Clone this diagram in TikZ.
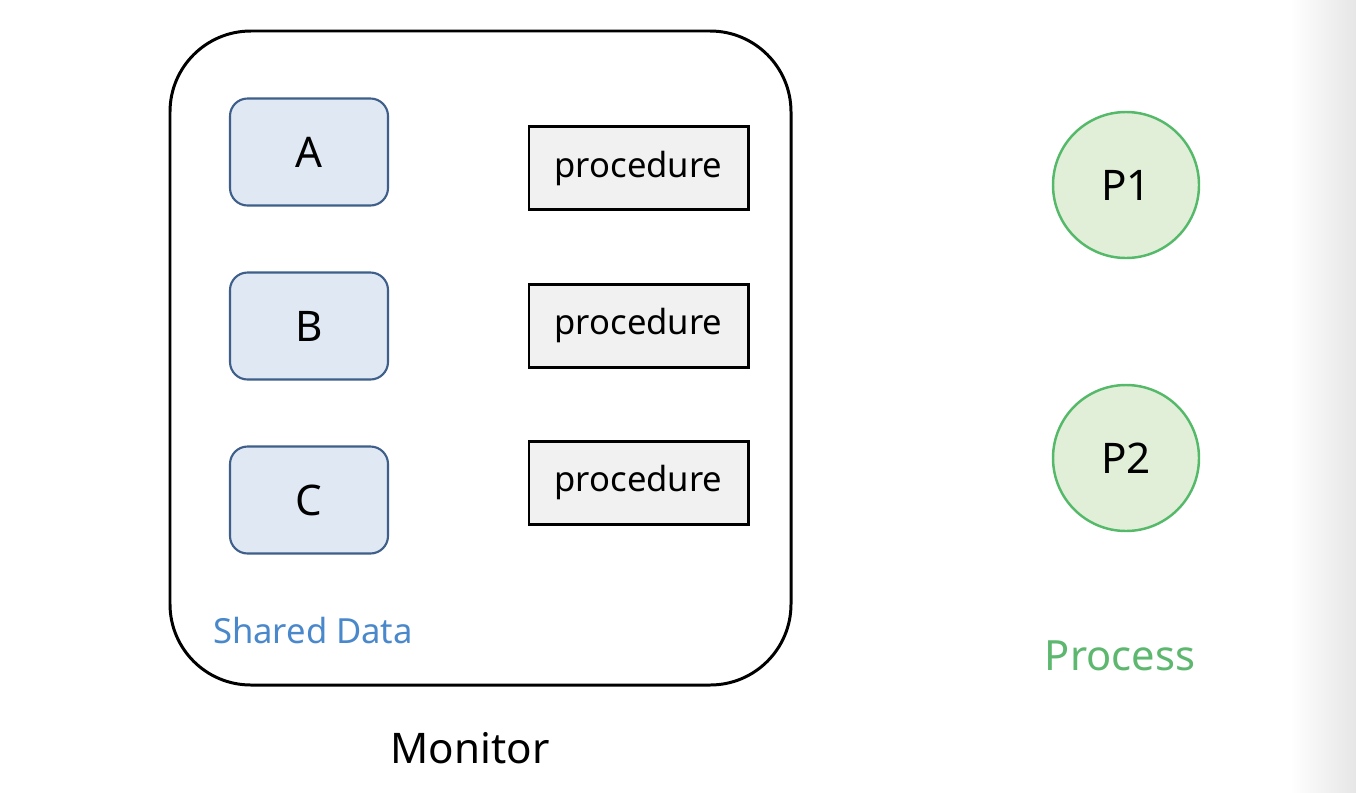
\documentclass[tikz,border=0pt]{standalone}
\usepackage{fontspec}
\setmainfont{Noto Sans}
\definecolor{datafill}{HTML}{DFE8F3}
\definecolor{datadraw}{HTML}{3E5F8A}
\definecolor{procfill}{HTML}{F1F1F1}
\definecolor{pfill}{HTML}{E1EFD9}
\definecolor{pdraw}{HTML}{55B96A}
\definecolor{sdblue}{HTML}{4A88CC}
\definecolor{pgreen}{HTML}{5DB76F}
\definecolor{edgegray}{HTML}{E6E6E6}
\begin{document}
\begin{tikzpicture}[x=0.02cm,y=-0.02cm,
  databox/.style={draw=datadraw,fill=datafill,line width=1.2pt,rounded corners=10pt,minimum width=158*0.02cm,minimum height=107*0.02cm,inner sep=0pt,font=\fontsize{24}{28}\selectfont},
  procbox/.style={draw=black,fill=procfill,line width=1.7pt,minimum width=219*0.02cm,minimum height=83*0.02cm,inner sep=0pt,font=\fontsize{19.7}{23}\selectfont},
  procnode/.style={circle,draw=pdraw,fill=pfill,line width=1.4pt,minimum size=146*0.02cm,inner sep=0pt,font=\fontsize{24}{28}\selectfont},
  lbl/.style={inner sep=0pt}]
\useasboundingbox (0,0) rectangle (1356,792);
\fill[white] (0,0) rectangle (1356,792);
\shade[left color=white,right color=edgegray] (1290,0) rectangle (1356,792);
\draw[line width=1.7pt,rounded corners=46pt] (170,31) rectangle (791,685);
\node[databox] (A) at (309,152) {A};
\node[databox] (B) at (309,326) {B};
\node[databox] (C) at (309,500) {C};
\node[procbox] (p1) at (638.5,168) {procedure};
\node[procbox] (p2) at (638.5,325.5) {procedure};
\node[procbox] (p3) at (638.5,482.5) {procedure};
\node[procnode] (P1) at (1126,185) {P1};
\node[procnode] (P2) at (1126,458) {P2};
\node[lbl,text=sdblue,font=\fontsize{19.7}{23}\selectfont] (sd) at (313,631) {Shared Data};
\node[lbl,font=\fontsize{24}{28}\selectfont] (mon) at (470,748) {Monitor};
\node[lbl,text=pgreen,font=\fontsize{23.7}{28}\selectfont] (proc) at (1120,656) {Process};
\end{tikzpicture}
\end{document}
